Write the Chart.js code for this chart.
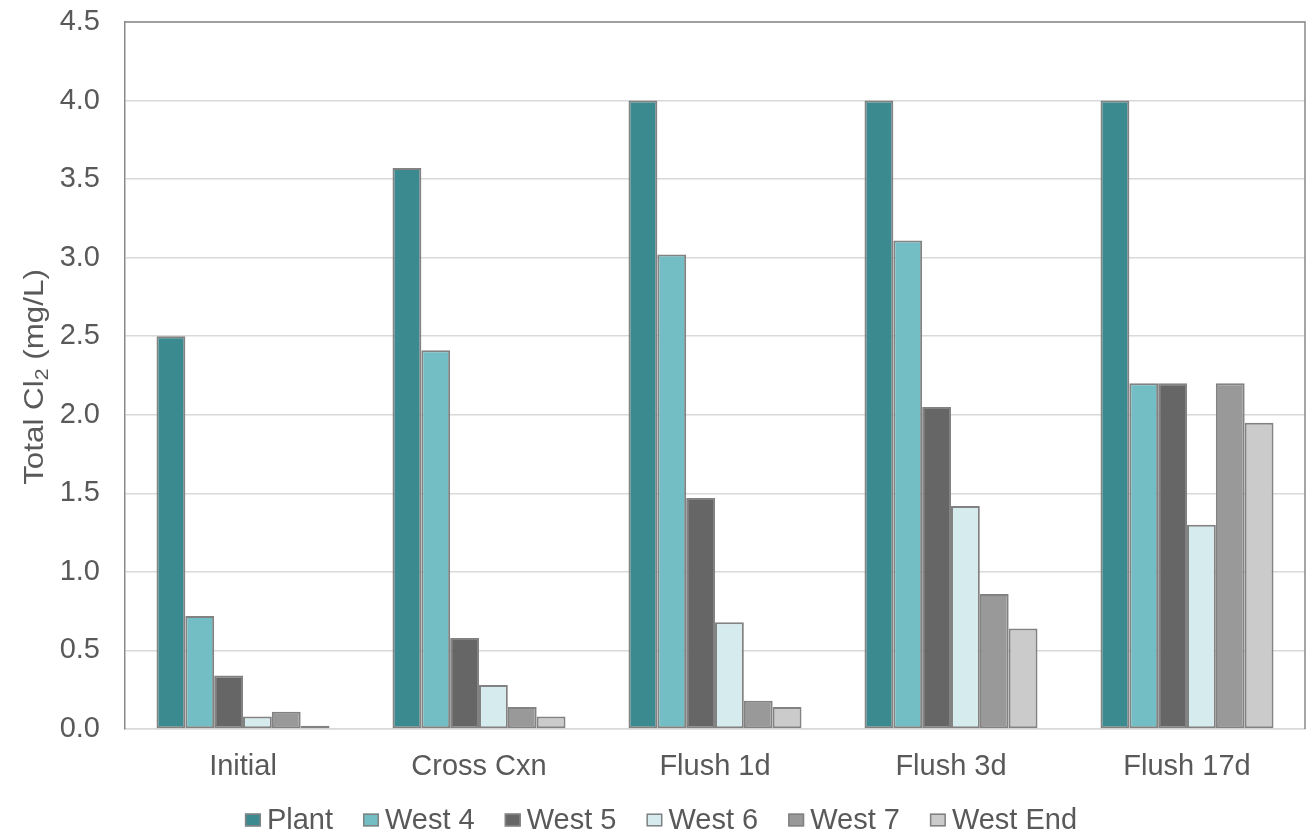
<!DOCTYPE html>
<html>
<head>
<meta charset="utf-8">
<script src="https://cdn.jsdelivr.net/npm/chart.js@4.4.1/dist/chart.umd.min.js"></script>
<style>
  html, body { margin: 0; padding: 0; background: #ffffff; }
  #wrap { width: 1312px; height: 834px; }
</style>
</head>
<body>
<div id="wrap"><canvas id="chart" width="1312" height="834"></canvas></div>
<script>
const categories = ['Initial', 'Cross Cxn', 'Flush 1d', 'Flush 3d', 'Flush 17d'];
const seriesNames = ['Plant', 'West 4', 'West 5', 'West 6', 'West 7', 'West End'];
const plant = [2.5, 3.57, 4.0, 4.0, 4.0];
const west4 = [0.72, 2.41, 3.02, 3.11, 2.2];
const west5 = [0.34, 0.58, 1.47, 2.05, 2.2];
const west6 = [0.08, 0.28, 0.68, 1.42, 1.3];
const west7 = [0.11, 0.14, 0.18, 0.86, 2.2];
const westEnd = [0.02, 0.08, 0.14, 0.64, 1.95];
const yMin = 0, yMax = 4.5, yStep = 0.5;

const colors = ['#3b8a8f', '#73bec4', '#666666', '#d6ebee', '#999999', '#cbcbcb'];
const seriesValues = [plant, west4, west5, west6, west7, westEnd];
const FONT = "'Liberation Sans', Arial, sans-serif";
const TEXT = '#595959';
const FSIZE = 29;
const PLOT_TOP = 22;

const datasets = seriesNames.map((name, i) => ({
    label: name,
    data: seriesValues[i],
    backgroundColor: colors[i],
    borderColor: '#828282',
    borderWidth: 2,
    borderSkipped: false,
    categoryPercentage: 0.733,
    barPercentage: 1.0
}));

// frame on top/right, y title with subscript, legend along the bottom
const extrasPlugin = {
    id: 'extras',
    afterLayout(chart) {
        // pull the plot top up to where the reference has it
        const y = chart.scales.y;
        if (chart.chartArea.top !== PLOT_TOP) {
            chart.chartArea.top = PLOT_TOP;
            chart.chartArea.height = chart.chartArea.bottom - PLOT_TOP;
            y.top = PLOT_TOP;
            y.height = y.bottom - PLOT_TOP;
            y.configure();
        }
    },
    afterDraw(chart) {
        const ctx = chart.ctx;
        const a = chart.chartArea;
        ctx.save();
        ctx.strokeStyle = '#898989';
        ctx.lineWidth = 1.5;
        ctx.beginPath();
        ctx.moveTo(a.left, a.top);
        ctx.lineTo(a.right, a.top);
        ctx.lineTo(a.right, a.bottom);
        ctx.stroke();
        ctx.restore();

        // y title: Total Cl2 (mg/L)
        ctx.save();
        const big = '28px ' + FONT;
        const small = '19px ' + FONT;
        ctx.font = big;
        const p1 = 'Total Cl', p3 = ' (mg/L)';
        const w1 = ctx.measureText(p1).width;
        const w3 = ctx.measureText(p3).width;
        ctx.font = small;
        const w2 = ctx.measureText('2').width;
        const total = w1 + w2 + w3;
        ctx.translate(43, 377);
        ctx.rotate(-Math.PI / 2);
        ctx.scale(1.12, 1);
        ctx.fillStyle = TEXT;
        ctx.textBaseline = 'alphabetic';
        ctx.textAlign = 'left';
        let x = -total / 2;
        ctx.font = big;
        ctx.fillText(p1, x, 0);
        x += w1;
        ctx.font = small;
        ctx.fillText('2', x, 5);
        x += w2;
        ctx.font = big;
        ctx.fillText(p3, x, 0);
        ctx.restore();

        // legend
        ctx.save();
        ctx.font = FSIZE + 'px ' + FONT;
        const boxW = 16, boxH = 13, gapIn = 6, gapOut = 30;
        const widths = chart.data.datasets.map(d => ctx.measureText(d.label).width);
        let full = 0;
        widths.forEach((w, i) => { full += boxW + gapIn + w + (i < widths.length - 1 ? gapOut : 0); });
        let lx = chart.width / 2 + 5 - full / 2;
        const cy = 820;
        ctx.textBaseline = 'middle';
        ctx.textAlign = 'left';
        chart.data.datasets.forEach((d, i) => {
            ctx.fillStyle = d.backgroundColor;
            ctx.fillRect(lx, cy - boxH / 2, boxW, boxH);
            ctx.strokeStyle = '#828282';
            ctx.lineWidth = 1.5;
            ctx.strokeRect(lx + 0.75, cy - boxH / 2 + 0.75, boxW - 1.5, boxH - 1.5);
            ctx.fillStyle = TEXT;
            ctx.fillText(d.label, lx + boxW + gapIn, cy + 1);
            lx += boxW + gapIn + widths[i] + gapOut;
        });
        ctx.restore();
    }
};

new Chart(document.getElementById('chart').getContext('2d'), {
    type: 'bar',
    data: { labels: categories, datasets: datasets },
    plugins: [extrasPlugin],
    options: {
        responsive: false,
        animation: false,
        layout: { autoPadding: false, padding: { top: PLOT_TOP, right: 7, bottom: 0, left: 0 } },
        plugins: {
            tooltip: { enabled: false },
            legend: { display: false }
        },
        scales: {
            x: {
                grid: { display: false, drawTicks: false },
                border: { color: '#d9d9d9', width: 1.5 },
                ticks: { color: TEXT, font: { family: FONT, size: FSIZE }, padding: 21 },
                afterFit(scale) {
                    scale.height = 834 - 729;
                }
            },
            y: {
                min: yMin,
                max: yMax,
                grid: { color: '#d9d9d9', lineWidth: 1.5, drawTicks: false },
                border: { color: '#898989', width: 1.5 },
                ticks: {
                    stepSize: yStep,
                    color: TEXT,
                    font: { family: FONT, size: FSIZE },
                    padding: 25,
                    callback: v => v.toFixed(1)
                },
                afterFit(scale) {
                    scale.width = 125;
                    scale.paddingTop = 0;
                    scale.paddingBottom = 0;
                }
            }
        }
    }
});
</script>
</body>
</html>
